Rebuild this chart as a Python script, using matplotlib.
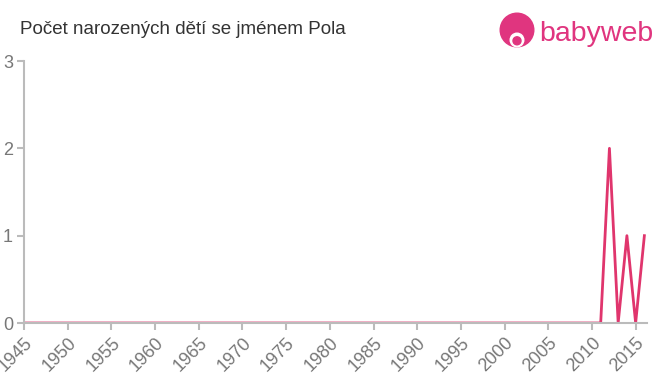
import numpy as np
import matplotlib.pyplot as plt
from matplotlib.patches import Circle

years = list(range(1945, 2017))
counts = [0] * (2012 - 1945) + [2, 0, 1, 0, 1]
xticks = list(range(1945, 2016, 5))
yticks = [0, 1, 2, 3]

plt.rcParams['font.family'] = ['Liberation Sans', 'DejaVu Sans']

fig = plt.figure(figsize=(6.6, 3.75), dpi=100)
ax = fig.add_axes([24 / 660, 1 - 323 / 375, (647 - 24) / 660, (323 - 61) / 375])

ax.plot(years, counts, color='#e0356d', lw=2)

ax.set_xlim(1945, 2016.3)
ax.set_ylim(0, 3)
ax.set_xticks(xticks)
ax.set_xticklabels([str(t) for t in xticks], rotation=45, ha='right',
                   rotation_mode='anchor', color='#777777', fontsize=13)
ax.set_yticks(yticks)
ax.set_yticklabels([str(t) for t in yticks], color='#777777', fontsize=13)
ax.tick_params(axis='both', color='#bbbbbb', length=5, width=1.5, pad=3)

for s in ['top', 'right']:
    ax.spines[s].set_visible(False)
for s in ['left', 'bottom']:
    ax.spines[s].set_color('#bbbbbb')
    ax.spines[s].set_linewidth(1.5)

fig.text(20 / 660, 1 - 30 / 375, 'Počet narozených dětí se jménem Pola',
         fontsize=13.5, color='#333333', va='center', ha='left')

# logo
lx = fig.add_axes([497 / 660, 1 - 52 / 375, 40 / 660, 40 / 375])
lx.set_xlim(0, 1)
lx.set_ylim(0, 1)
lx.set_aspect('equal')
lx.axis('off')
lx.add_patch(Circle((0.5, 0.55), 0.42, color='#e0357f'))
lx.add_patch(Circle((0.5, 0.3), 0.17, color='white'))
lx.add_patch(Circle((0.5, 0.28), 0.1, color='#e0357f'))
fig.text(539 / 660, 1 - 34 / 375, 'babyweb', fontsize=20.5, color='#e0357f',
         va='center', ha='left')

fig.savefig('out.png', dpi=100)
